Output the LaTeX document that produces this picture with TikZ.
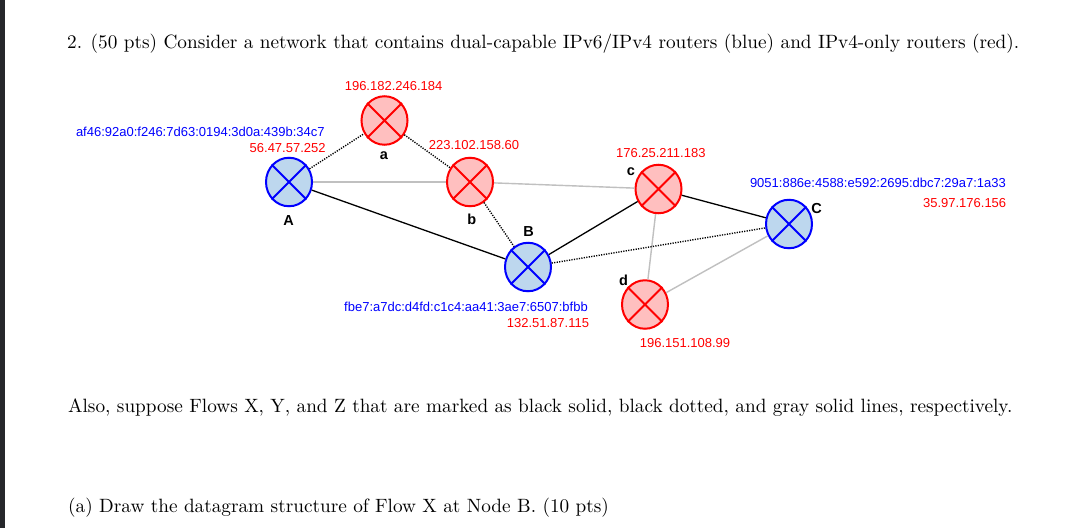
\documentclass[tikz,border=0pt]{standalone}
\usepackage{fontspec}
\usetikzlibrary{shapes.geometric}
\newfontfamily\labfont{Liberation Sans}
\newfontfamily\bodyfont{lmroman10-regular.otf}
\definecolor{vsixfill}{RGB}{189,215,238}
\definecolor{vfourfill}{RGB}{255,191,191}
\definecolor{vsixline}{RGB}{0,0,255}
\definecolor{vfourline}{RGB}{255,0,0}
\definecolor{zgray}{RGB}{192,192,192}
\definecolor{stripcol}{RGB}{38,39,43}
\tikzset{
  router/.style={ellipse, line width=2pt, minimum width=46pt, minimum height=48.5pt, inner sep=0pt},
  vsix/.style={router, draw=vsixline, fill=vsixfill},
  vfour/.style={router, draw=vfourline, fill=vfourfill},
  ipfour/.style={inner sep=0pt, text=vfourline, font=\labfont\fontsize{13}{14}\selectfont},
  ipsix/.style={inner sep=0pt, text=vsixline, font=\labfont\fontsize{13}{14}\selectfont},
  nm/.style={inner sep=0pt, font=\labfont\bfseries\fontsize{14.5}{16}\selectfont},
  body/.style={inner sep=0pt, anchor=base west, font=\bodyfont\fontsize{19.25}{23}\selectfont},
  flowx/.style={black, line width=1.3pt},
  flowy/.style={black, line width=1.4pt, dash pattern=on 1.2pt off 1.3pt},
  flowz/.style={zgray, line width=1.4pt},
}
\begin{document}
\begin{tikzpicture}[x=1pt,y=-1pt]
\useasboundingbox (0,0) rectangle (1077,528);
\fill[white] (0,0) rectangle (1077,528);
\fill[stripcol] (0,0) rectangle (5,528);

\node[body] (t1) at (67,48) {2. (50 pts) Consider a network that contains dual-capable IPv6/IPv4 routers (blue) and IPv4-only routers (red).};
\node[body] (t2) at (68,412) {Also, suppose Flows X, Y, and Z that are marked as black solid, black dotted, and gray solid lines, respectively.};
\node[body] (t3) at (68,512) {(a) Draw the datagram structure of Flow X at Node B. (10 pts)};

% routers
\node[vsix] (A) at (289,182) {};
\node[vfour] (a) at (384.5,120.5) {};
\node[vfour] (b) at (470,182) {};
\node[vsix] (B) at (528,267) {};
\node[vfour] (c) at (658.5,189) {};
\node[vsix] (C) at (789,224) {};
\node[vfour] (d) at (645,304.5) {};

\foreach \n/\col in {A/vsixline, a/vfourline, b/vfourline, B/vsixline, c/vfourline, C/vsixline, d/vfourline}{
  \draw[\col, line width=2pt] (\n.45) -- (\n.225) (\n.135) -- (\n.315);
}

% flows
\draw[flowz] (A) -- (b);
\draw[flowz] (b) -- (c);
\draw[flowz] (c) -- (d);
\draw[flowz] (d) -- (C);
\draw[flowx] (A) -- (B);
\draw[flowx] (B) -- (c);
\draw[flowx] (c) -- (C);
\draw[flowy] (A) -- (a);
\draw[flowy] (a) -- (b);
\draw[flowy] (b) -- (B);
\draw[flowy] (B) -- (C);

% labels
\node[ipfour] (la4) at (393.6,85.7) {196.182.246.184};
\node[nm] (lan) at (384,156) {a};
\node[ipsix, anchor=west] (lA6) at (75.8,132) {af46:92a0:f246:7d63:0194:3d0a:439b:34c7};
\node[ipfour, anchor=east] (lA4) at (325.8,148.5) {56.47.57.252};
\node[nm] (lAn) at (288.6,220.5) {A};
\node[ipfour] (lb4) at (474,145) {223.102.158.60};
\node[nm] (lbn) at (471.8,219) {b};
\node[nm] (lBn) at (528.5,232) {B};
\node[ipsix, anchor=west] (lB6) at (344,307.3) {fbe7:a7dc:d4fd:c1c4:aa41:3ae7:6507:bfbb};
\node[ipfour, anchor=east] (lB4) at (589.2,323.3) {132.51.87.115};
\node[ipfour] (lc4) at (660.8,153.3) {176.25.211.183};
\node[nm] (lcn) at (631,171.7) {c};
\node[ipsix, anchor=west] (lC6) at (749.8,183.3) {9051:886e:4588:e592:2695:dbc7:29a7:1a33};
\node[ipfour, anchor=east] (lC4) at (1006.4,203.3) {35.97.176.156};
\node[nm] (lCn) at (816.6,208.3) {C};
\node[nm] (ldn) at (623.6,280) {d};
\node[ipfour] (ld4) at (685,342.7) {196.151.108.99};
\end{tikzpicture}
\end{document}
